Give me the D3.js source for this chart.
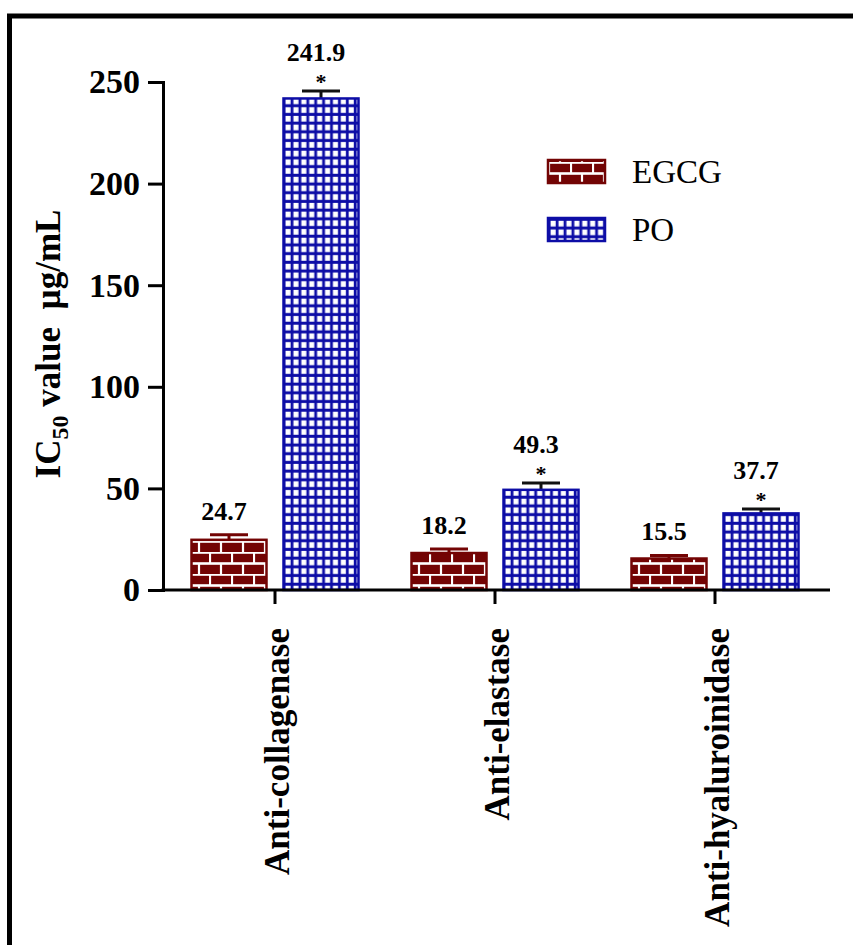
<!DOCTYPE html>
<html>
<head>
<meta charset="utf-8">
<script src="https://cdn.jsdelivr.net/npm/d3@7"></script>
<style>
  html, body { margin: 0; padding: 0; background: #fff; }
  svg { display: block; }
  text { font-family: "Liberation Serif", "Times New Roman", serif; }
</style>
</head>
<body>
<svg id="chart" width="853" height="945"></svg>
<script>
// ---- data ----
const categories = ["Anti-collagenase", "Anti-elastase", "Anti-hyaluroinidase"];
const seriesNames = ["EGCG", "PO"];
const egcgValues = [24.7, 18.2, 15.5];
const poValues = [241.9, 49.3, 37.7];
const egcgErrors = [2.5, 2.0, 1.5];
const poErrors = [3.7, 3.4, 2.2];
const poSignificant = [true, true, true];
const yTicks = [0, 50, 100, 150, 200, 250];

// ---- styles ----
const maroon = "#730404";
const blue = "#0d0da6";

const svg = d3.select("#chart");
const defs = svg.append("defs");

// brick pattern (EGCG)
const brick = defs.append("pattern")
  .attr("id", "brick").attr("patternUnits", "userSpaceOnUse")
  .attr("width", 22).attr("height", 22).attr("x", 0).attr("y", 2);
brick.append("rect").attr("width", 22).attr("height", 22).attr("fill", maroon);
brick.append("line").attr("x1", 0).attr("x2", 22).attr("y1", 0.5).attr("y2", 0.5)
  .attr("stroke", "#fff").attr("stroke-width", 2.6);
brick.append("line").attr("x1", 0).attr("x2", 22).attr("y1", 11.5).attr("y2", 11.5)
  .attr("stroke", "#fff").attr("stroke-width", 2.6);
brick.append("line").attr("x1", 1).attr("x2", 1).attr("y1", 0).attr("y2", 11)
  .attr("stroke", "#fff").attr("stroke-width", 2.2);
brick.append("line").attr("x1", 12).attr("x2", 12).attr("y1", 11).attr("y2", 22)
  .attr("stroke", "#fff").attr("stroke-width", 2.2);

// grid pattern (PO)
const grid = defs.append("pattern")
  .attr("id", "grid").attr("patternUnits", "userSpaceOnUse")
  .attr("width", 7.9).attr("height", 8.7);
grid.append("rect").attr("width", 7.9).attr("height", 8.7).attr("fill", blue);
grid.append("rect").attr("x", 2.6).attr("y", 2.8).attr("width", 5.1).attr("height", 5.7)
  .attr("fill", "#fff");

// frame
svg.append("rect")
  .attr("x", 9.5).attr("y", 16).attr("width", 900).attr("height", 1000)
  .attr("fill", "none").attr("stroke", "#000").attr("stroke-width", 5);

// ---- scales ----
const y = d3.scaleLinear().domain([0, 250]).range([590, 82]);
const x0 = d3.scaleBand().domain(categories).range([165, 825]).padding(0);
const x1 = d3.scaleBand().domain(seriesNames).range([-84.5, 84.5]).paddingInner(0.163);

const rows = categories.map((c, i) => ({
  cat: c,
  bars: [
    { s: "EGCG", v: egcgValues[i], e: egcgErrors[i], sig: false },
    { s: "PO", v: poValues[i], e: poErrors[i], sig: poSignificant[i] }
  ]
}));

const g = svg.append("g");

const groups = g.selectAll("g.grp").data(rows).join("g")
  .attr("class", "grp")
  .attr("transform", d => `translate(${x0(d.cat) + x0.bandwidth() / 2},0)`);

const bar = groups.selectAll("g.bar").data(d => d.bars).join("g").attr("class", "bar");

// error bars (upper only)
bar.append("line")
  .attr("x1", d => x1(d.s) + x1.bandwidth() / 2)
  .attr("x2", d => x1(d.s) + x1.bandwidth() / 2)
  .attr("y1", d => y(d.v)).attr("y2", d => y(d.v + d.e))
  .attr("stroke", d => d.s === "EGCG" ? maroon : "#111").attr("stroke-width", 3);
bar.append("line")
  .attr("x1", d => x1(d.s) + x1.bandwidth() / 2 - 19)
  .attr("x2", d => x1(d.s) + x1.bandwidth() / 2 + 19)
  .attr("y1", d => y(d.v + d.e)).attr("y2", d => y(d.v + d.e))
  .attr("stroke", d => d.s === "EGCG" ? maroon : "#111").attr("stroke-width", 3);

bar.append("rect")
  .attr("x", d => x1(d.s) + 1)
  .attr("width", x1.bandwidth() - 2)
  .attr("y", d => y(d.v))
  .attr("height", d => y(0) - y(d.v))
  .attr("fill", d => d.s === "EGCG" ? "url(#brick)" : "url(#grid)")
  .attr("stroke", d => d.s === "EGCG" ? maroon : blue)
  .attr("stroke-width", 2.5);

// significance stars
bar.filter(d => d.sig).append("text")
  .attr("x", d => x1(d.s) + x1.bandwidth() / 2)
  .attr("y", d => y(d.v + d.e) + 2)
  .attr("dy", "-0.2em")
  .attr("text-anchor", "middle")
  .attr("font-size", 22).attr("font-weight", "bold")
  .text("*");

// value labels
bar.append("text")
  .attr("x", d => x1(d.s) + x1.bandwidth() / 2 - 5)
  .attr("y", d => y(d.v + d.e) - (d.sig ? 30 : 15))
  .attr("text-anchor", "middle")
  .attr("font-size", 26).attr("font-weight", "bold")
  .attr("fill", "#000")
  .text(d => d.v.toFixed(1));

// ---- axes ----
const yAxis = d3.axisLeft(y).tickValues(yTicks).tickSize(15).tickSizeOuter(15).tickPadding(8);
const yg = svg.append("g").attr("transform", "translate(163,0)").call(yAxis);
yg.selectAll("path, line").attr("stroke", "#000").attr("stroke-width", 3);
yg.selectAll("text").attr("font-size", 34).attr("font-weight", "bold")
  .attr("font-family", "Liberation Serif, serif").attr("fill", "#000");

// x axis baseline
svg.append("line").attr("x1", 161.5).attr("x2", 830).attr("y1", y(0)).attr("y2", y(0))
  .attr("stroke", "#000").attr("stroke-width", 3);
const xAxis = d3.axisBottom(x0).tickSize(14).tickSizeOuter(0).tickFormat("");
const xg = svg.append("g").attr("transform", `translate(0,${y(0)})`).call(xAxis);
xg.select(".domain").remove();
xg.selectAll("line").attr("stroke", "#000").attr("stroke-width", 3);

// category labels (rotated)
svg.append("g").selectAll("text").data(categories).join("text")
  .attr("transform", d => `translate(${x0(d) + x0.bandwidth() / 2 + 2},628) rotate(-90)`)
  .attr("text-anchor", "end")
  .attr("dy", "0.33em")
  .attr("font-size", 35).attr("font-weight", "bold")
  .text(d => d);

// y axis title
const yt = svg.append("text")
  .attr("transform", "translate(48,344) rotate(-90)")
  .attr("text-anchor", "middle")
  .attr("dy", "0.33em")
  .attr("font-size", 35).attr("font-weight", "bold");
yt.append("tspan").text("IC");
yt.append("tspan").attr("font-size", 24).attr("dy", 8).text("50");
yt.append("tspan").attr("dy", -8).text(" value\u00a0\u00a0µg/mL");

// ---- legend ----
const legend = svg.append("g").attr("transform", "translate(548,160)");
const li = legend.selectAll("g").data(seriesNames).join("g")
  .attr("transform", (d, i) => `translate(0,${i * 58})`);
li.append("rect")
  .attr("width", 57).attr("height", 23)
  .attr("fill", d => d === "EGCG" ? "url(#brick)" : "url(#grid)")
  .attr("stroke", d => d === "EGCG" ? maroon : blue).attr("stroke-width", 2.5);
li.append("text").attr("x", 84).attr("y", 23)
  .attr("font-size", 33).attr("fill", "#000")
  .text(d => d);
</script>
</body>
</html>
